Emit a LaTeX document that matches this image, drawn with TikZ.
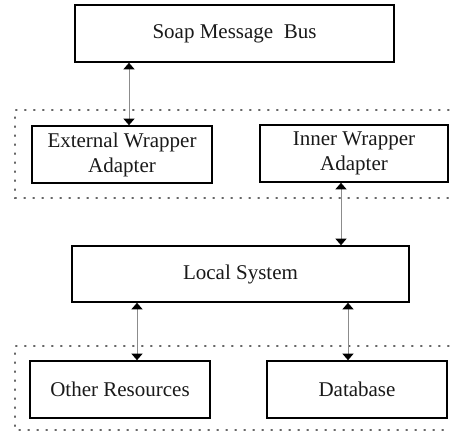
\documentclass[tikz,border=0pt]{standalone}
\usepackage{fontspec}
\setmainfont{Liberation Serif}
\usetikzlibrary{arrows.meta}
\begin{document}
\begin{tikzpicture}[x=1pt,y=-1pt,
  box/.style={draw=black,line width=1.6pt,rectangle,inner sep=0pt,align=center,
    font=\fontsize{21}{25}\selectfont,text=black!90},
  conn/.style={draw=black!45,line width=0.9pt,
    {Triangle[width=11pt,length=6.5pt,black]}-{Triangle[width=11pt,length=6.5pt,black]}},
  region/.style={draw=black!60,line width=1.3pt,dash pattern=on 1.3pt off 7.7pt,line cap=round}]
\useasboundingbox (0,0) rectangle (450,434);
\node[box,minimum width=319pt,minimum height=57pt] (soap) at (234.5,33.5) {Soap Message\ \ Bus};
\node[box,minimum width=180pt,minimum height=57pt] (ext) at (122,154.5) {External Wrapper\\Adapter};
\node[box,minimum width=188pt,minimum height=57pt] (inner) at (354,153.5) {Inner Wrapper\\Adapter};
\node[box,minimum width=337pt,minimum height=56pt] (local) at (240.5,274) {Local System};
\node[box,minimum width=180pt,minimum height=57pt] (other) at (120,389.5) {Other Resources};
\node[box,minimum width=180pt,minimum height=57pt] (db) at (357,389.5) {Database};
% dotted regions
\coordinate (r1a) at (449,110);
\coordinate (r1b) at (15,110);
\coordinate (r1c) at (15,198);
\coordinate (r1d) at (449,198);
\draw[region] (r1a) -- (r1b) -- (r1c) -- (r1d);
\coordinate (r2a) at (449,346);
\coordinate (r2b) at (15,346);
\coordinate (r2c) at (15,430);
\coordinate (r2d) at (449,430);
\draw[region] (r2a) -- (r2b) -- (r2c) -- (r2d);
% connector x positions
\coordinate (x1) at (129,0);
\coordinate (x2) at (341,0);
\coordinate (x3) at (137,0);
\coordinate (x4) at (348,0);
\draw[conn] (soap.south -| x1) -- (ext.north -| x1);
\draw[conn] (inner.south -| x2) -- (local.north -| x2);
\draw[conn] (local.south -| x3) -- (other.north -| x3);
\draw[conn] (local.south -| x4) -- (db.north -| x4);
\end{tikzpicture}
\end{document}
